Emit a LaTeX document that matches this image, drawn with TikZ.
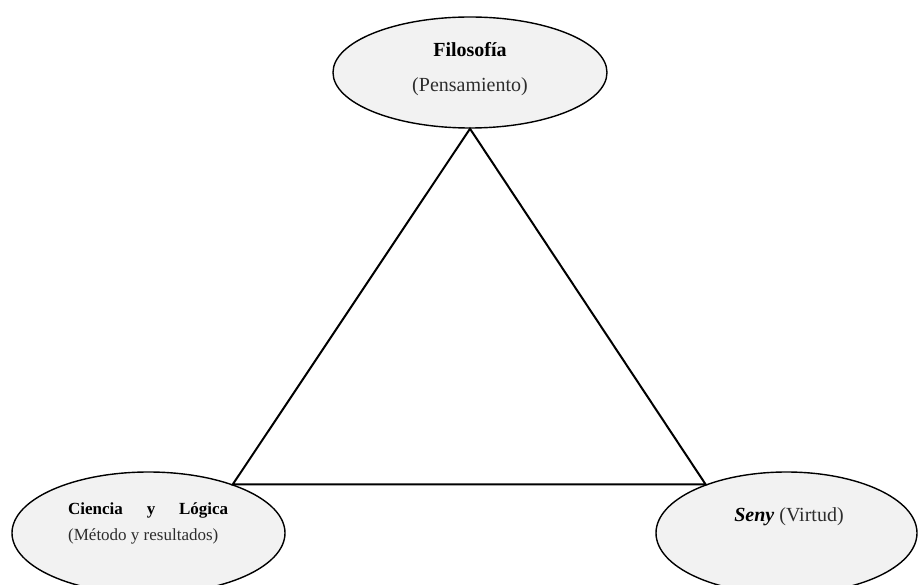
\documentclass[tikz,border=0pt]{standalone}
\usepackage{fontspec}
\setmainfont{Liberation Serif}
\usetikzlibrary{shapes.geometric}
\definecolor{bubblefill}{RGB}{242,242,242}
\definecolor{subtext}{RGB}{45,45,45}
\begin{document}
\begin{tikzpicture}[x=1pt,y=-1pt,
  bubble/.style={ellipse, draw=black, line width=1.4pt, fill=bubblefill, inner sep=0pt},
  side/.style={line width=2pt, line join=miter},
  head/.style={font=\fontsize{#1}{#1}\selectfont\bfseries, text=black, inner sep=0pt},
  sub/.style={font=\fontsize{#1}{#1}\selectfont, text=subtext, inner sep=0pt}]
\useasboundingbox (0,0) rectangle (918,585);

% the three bubbles
\node[bubble, minimum width=274pt, minimum height=111pt] (filo) at (470,72.5) {};
\node[bubble, minimum width=273pt, minimum height=122pt] (cien) at (148.5,533) {};
\node[bubble, minimum width=261pt, minimum height=122pt] (seny) at (786.5,533) {};

% triangle joining them
\draw[side] (filo.south) -- (cien.30) -- (seny.149) -- cycle;

% labels
\node[head=20, anchor=base] (filoT) at (470,56.7) {Filosofía};
\node[sub=20, anchor=base] (filoS) at (470,91.7) {(Pensamiento)};

\node[head=17, anchor=base west] (cienT) at (68,514) {\hbox to 160pt{Ciencia\hfill y\hfill Lógica}};
\node[sub=17, anchor=base west] (cienS) at (68,540.7) {(Método y resultados)};

\node[sub=20, anchor=base] (senyT) at (789,521.7) {{\color{black}\bfseries\itshape Seny} (Virtud)};
\end{tikzpicture}
\end{document}
